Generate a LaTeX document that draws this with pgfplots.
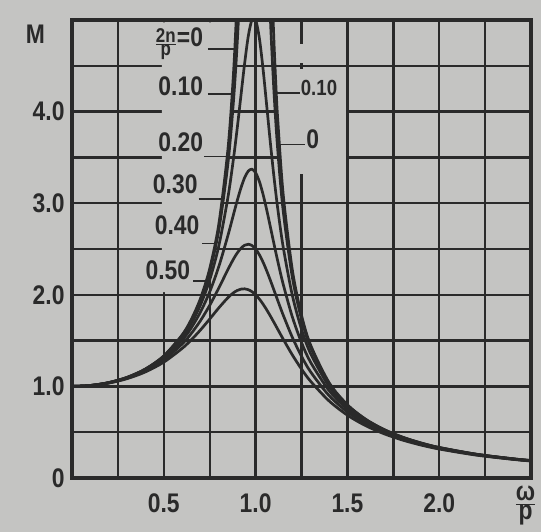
\documentclass[border=0pt]{standalone}
\usepackage{fontspec}
\setmainfont{Liberation Sans}[FakeStretch=0.85]
\usepackage{pgfplots}
\pgfplotsset{compat=1.18}
\definecolor{paper}{RGB}{196,196,194}
\definecolor{ink}{RGB}{42,42,42}
\newcommand\lfont{\fontsize{27}{29}\selectfont\bfseries}
\newcommand\rfont{\fontsize{22}{24}\selectfont\bfseries}
\newcommand\sfont{\fontsize{20}{20}\selectfont\bfseries}

\begin{document}
\begin{tikzpicture}[x=1bp,y=1bp]
\fill[paper] (0,0) rectangle (541,532);
\useasboundingbox (0,0) rectangle (541,532);
\begin{axis}[
    at={(72bp,54bp)}, anchor=south west,
    scale only axis, width=459bp, height=458bp,
    xmin=0, xmax=2.5, ymin=0, ymax=5,
    xtick={0,0.25,0.5,0.75,1,1.25,1.5,1.75,2,2.25,2.5},
    ytick={0,0.5,1,1.5,2,2.5,3,3.5,4,4.5,5},
    xticklabels={,,0.5,,1.0,,1.5,,2.0,,},
    yticklabels={0,,1.0,,2.0,,3.0,,4.0,,},
    major tick length=0pt,
    grid=major,
    grid style={ink, line width=2.4bp},
    axis line style={ink, line width=3.5bp},
    tick label style={font=\lfont, text=ink},
    xticklabel style={yshift=-12bp},
    yticklabel style={xshift=-4bp},
    clip mode=individual,
    every axis plot post/.append style={ink, solid, line width=2.7bp, mark=none, smooth},
]
% blank areas of the sheet where the grid is left out
\fill[paper] (axis cs:0.49,2.03) -- (axis cs:0.705,2.03) -- (axis cs:0.775,2.5)
  -- (axis cs:0.816,3) -- (axis cs:0.845,3.5) -- (axis cs:0.866,4)
  -- (axis cs:0.882,4.5) -- (axis cs:0.894,4.975) -- (axis cs:0.49,4.975) -- cycle;
\fill[paper] (axis cs:1.12,3.32) rectangle (axis cs:1.492,4.47);
\fill[paper] (axis cs:1.2,4.53) rectangle (axis cs:1.3,4.74);

% 2n/p = 0
\addplot[line width=4.2bp] coordinates {(0,1)(0.1,1.0101)(0.2,1.0417)(0.3,1.0989)(0.4,1.1905)(0.5,1.3333)
  (0.6,1.5625)(0.65,1.7316)(0.7,1.9608)(0.75,2.2857)(0.8,2.7778)(0.85,3.6036)
  (0.88,4.4326)(0.9,5.2632)(0.91,5.817)(0.92,6.5104)(0.93,7.402)(0.94,8.591)};
\addplot[line width=4.2bp] coordinates {(1.06,8.091)(1.08,6.0096)(1.09,5.316)(1.1,4.7619)(1.11,4.308)
  (1.12,3.9308)(1.15,3.1008)(1.2,2.2727)(1.25,1.7778)(1.3,1.4493)(1.4,1.0417)
  (1.5,0.8)(1.6,0.6410)(1.7,0.5291)(1.8,0.4464)(1.9,0.3831)(2.0,0.3333)
  (2.2,0.2604)(2.4,0.2101)(2.5,0.1905)};
% 0.10
\addplot[line width=3.6bp] coordinates {(0,1)(0.1,1.0101)(0.2,1.0414)(0.3,1.0983)(0.4,1.1891)(0.5,1.3304)
  (0.6,1.5557)(0.65,1.7207)(0.7,1.9426)(0.75,2.2529)(0.8,2.7116)(0.85,3.4456)
  (0.88,4.1296)(0.9,4.7565)(0.92,5.5852)(0.94,6.6837)(0.96,8.068)};
\addplot[line width=3.6bp] coordinates {(1.04,7.565)(1.06,6.1414)(1.08,5.0409)(1.1,4.2182)(1.12,3.5976)
  (1.15,2.9206)(1.2,2.1926)(1.25,1.7355)(1.3,1.4242)(1.4,1.0308)(1.5,0.7943)
  (1.6,0.6377)(1.7,0.5270)(1.8,0.4450)(1.9,0.3821)(2.0,0.3326)(2.2,0.2600)
  (2.4,0.2098)(2.5,0.1903)};
% 0.20
\addplot[line width=3.2bp] coordinates {(0,1)(0.1,1.0099)(0.2,1.0408)(0.3,1.0965)(0.4,1.1851)(0.5,1.3216)
  (0.6,1.5357)(0.65,1.6893)(0.7,1.8908)(0.75,2.1622)(0.8,2.5384)(0.85,3.0728)
  (0.88,3.4949)(0.9,3.8208)(0.92,4.1721)(0.94,4.5225)(0.96,4.8219)(0.98,5.001)
  (1.0,5.0)(1.02,4.8086)(1.04,4.4755)(1.06,4.075)(1.08,3.6675)(1.1,3.288)
  (1.12,2.9502)(1.15,2.5245)(1.2,1.9952)(1.25,1.6245)(1.3,1.3562)(1.4,1.0)
  (1.5,0.7779)(1.6,0.6279)(1.7,0.5207)(1.8,0.4408)(1.9,0.3791)(2.0,0.3304)
  (2.2,0.2587)(2.4,0.2090)(2.5,0.1896)};
% 0.30
\addplot coordinates {(0,1)(0.1,1.0096)(0.2,1.0396)(0.3,1.0936)(0.4,1.1785)(0.5,1.3074)
  (0.6,1.5041)(0.65,1.6406)(0.7,1.8131)(0.75,2.0327)(0.8,2.3112)(0.85,2.6534)
  (0.88,2.8797)(0.9,3.0289)(0.92,3.1659)(0.94,3.2778)(0.96,3.3503)(0.98,3.371)
  (1.0,3.3333)(1.02,3.2399)(1.04,3.1009)(1.06,2.9311)(1.08,2.7455)(1.1,2.5566)
  (1.12,2.3728)(1.15,2.1175)(1.2,1.759)(1.25,1.4792)(1.3,1.2617)(1.4,0.9543)
  (1.5,0.7527)(1.6,0.6127)(1.7,0.5108)(1.8,0.4340)(1.9,0.3743)(2.0,0.3269)
  (2.2,0.2567)(2.4,0.2077)(2.5,0.1886)};
% 0.40
\addplot coordinates {(0,1)(0.1,1.0093)(0.2,1.0381)(0.3,1.0895)(0.4,1.1695)(0.5,1.2883)
  (0.6,1.463)(0.65,1.5789)(0.7,1.7188)(0.75,1.8851)(0.8,2.0761)(0.85,2.2786)
  (0.88,2.3918)(0.9,2.4566)(0.92,2.5077)(0.94,2.5406)(0.96,2.5515)(0.98,2.5381)
  (1.0,2.5)(1.02,2.439)(1.04,2.3589)(1.06,2.2642)(1.08,2.1601)(1.1,2.0511)
  (1.12,1.941)(1.15,1.78)(1.2,1.5357)(1.25,1.3287)(1.3,1.1574)(1.4,0.8998)
  (1.5,0.7212)(1.6,0.5931)(1.7,0.4979)(1.8,0.4250)(1.9,0.3679)(2.0,0.3221)
  (2.2,0.2538)(2.4,0.2059)(2.5,0.1871)};
% 0.50
\addplot coordinates {(0,1)(0.1,1.0088)(0.2,1.0361)(0.3,1.0843)(0.4,1.1581)(0.5,1.2649)
  (0.6,1.4148)(0.65,1.509)(0.7,1.6167)(0.75,1.7355)(0.8,1.8582)(0.85,1.9702)
  (0.88,2.0224)(0.9,2.0472)(0.92,2.062)(0.94,2.0653)(0.96,2.0561)(0.98,2.0342)
  (1.0,2.0)(1.02,1.9547)(1.04,1.8998)(1.06,1.8375)(1.08,1.7697)(1.1,1.6986)
  (1.12,1.6258)(1.15,1.5168)(1.2,1.344)(1.25,1.1893)(1.3,1.0549)(1.4,0.8417)
  (1.5,0.686)(1.6,0.5704)(1.7,0.4825)(1.8,0.4142)(1.9,0.3600)(2.0,0.3162)
  (2.2,0.2503)(2.4,0.2037)(2.5,0.1853)};

% labels on the left
\node[anchor=east, fill=paper, inner sep=1bp, text=ink] at (axis cs:0.72,4.74)
  {\(\frac{\mbox{\sfont 2n}}{\mbox{\sfont p}}\)\lfont=0};
\node[anchor=east, fill=paper, inner sep=1bp, text=ink, font=\lfont] at (axis cs:0.72,4.28) {0.10};
\node[anchor=east, fill=paper, inner sep=1bp, text=ink, font=\lfont] at (axis cs:0.72,3.66) {0.20};
\node[anchor=east, fill=paper, inner sep=1bp, text=ink, font=\lfont] at (axis cs:0.69,3.21) {0.30};
\node[anchor=east, fill=paper, inner sep=1bp, text=ink, font=\lfont] at (axis cs:0.70,2.76) {0.40};
\node[anchor=east, fill=paper, inner sep=1bp, text=ink, font=\lfont] at (axis cs:0.65,2.27) {0.50};
\draw[ink, line width=1.8bp] (axis cs:0.74,4.68) -- (axis cs:0.885,4.68);
\draw[ink, line width=1.8bp] (axis cs:0.74,4.19) -- (axis cs:0.87,4.19);
\draw[ink, line width=1.8bp] (axis cs:0.72,3.51) -- (axis cs:0.845,3.51);
\draw[ink, line width=1.8bp] (axis cs:0.69,3.05) -- (axis cs:0.82,3.05);
\draw[ink, line width=1.8bp] (axis cs:0.71,2.56) -- (axis cs:0.78,2.56);
\draw[ink, line width=1.8bp] (axis cs:0.66,2.15) -- (axis cs:0.73,2.15);
% labels on the right
\draw[ink, line width=1.8bp] (axis cs:1.115,4.2) -- (axis cs:1.24,4.2);
\draw[ink, line width=1.8bp] (axis cs:1.13,3.64) -- (axis cs:1.27,3.64);
\node[anchor=west, inner sep=1bp, text=ink, font=\rfont] at (axis cs:1.24,4.26) {0.10};
\node[anchor=west, inner sep=1bp, text=ink, font=\lfont] at (axis cs:1.27,3.70) {0};
% axis names
\node[text=ink, font=\lfont] at (axis cs:-0.2,4.84) {M};
\node[text=ink, font=\lfont] at (axis cs:2.47,-0.3) {\(\frac{\mbox{\lfont ω}}{\mbox{\lfont p}}\)};
\end{axis}
\end{tikzpicture}
\end{document}
